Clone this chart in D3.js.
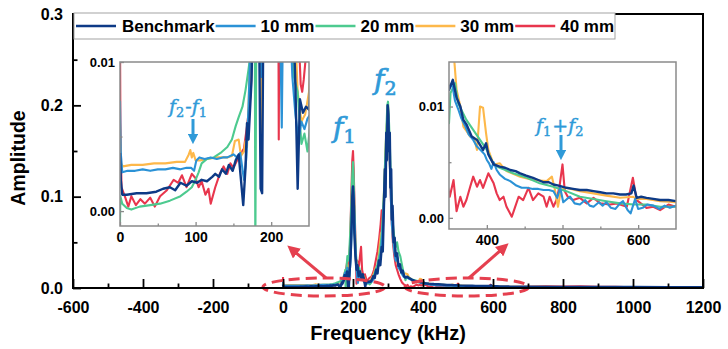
<!DOCTYPE html>
<html>
<head>
<meta charset="utf-8">
<script src="https://cdn.jsdelivr.net/npm/d3@7"></script>
<style>
body{margin:0;background:#fff;}
svg{display:block;font-family:"Liberation Sans",Arial,sans-serif;}
</style>
</head>
<body>
<script>
//series names and colours (legend order)
var seriesNames = ["Benchmark", "10 mm", "20 mm", "30 mm", "40 mm"];
var seriesColors = ["#0d3a86", "#2b92d6", "#4dca8f", "#fdb84a", "#e8364d"];

//spectra as [frequency kHz, amplitude]
var benchmark = [[0,.0039],[1,.0021],[3,.0011],[9,.0011],[22,.0012],[35,.0012],[48,.0013],[57,.0015],[66,.0016],[73,.0014],[80,.0019],[88,.0017],[95,.002],[102,.0019],[108,.0021],[115,.002],[122,.0023],[126,.0025],[131,.0023],[135,.0028],[140,.0025],[144,.0031],[149,.0027],[153,.0034],[157,.0038],[163,.0004],[166,.0029],[168,.0059],[170,.0048],[174,.0088],[176,.014],[180,.011],[183,.018],[186,.0015],[188,.0012],[190,.016],[193,.035],[196,.07],[198,.1],[200,.111],[202,.095],[204,.06],[207,.035],[210,.02],[213,.025],[216,.013],[220,.018],[224,.011],[228,.015],[232,.0085],[235,.0015],[238,.0075],[242,.0066],[246,.007],[250,.0068],[254,.009],[258,.013],[262,.011],[266,.02],[270,.016],[274,.03],[278,.025],[282,.045],[285,.04],[288,.085],[291,.13],[293,.1],[295,.17],[297,.14],[299,.2],[301,.19],[303,.15],[305,.17],[307,.11],[309,.13],[311,.075],[313,.09],[316,.05],[319,.055],[322,.035],[326,.038],[330,.024],[334,.026],[338,.017],[342,.019],[346,.013],[350,.0115],[355,.0124],[360,.0108],[365,.01],[369,.0088],[373,.0084],[380,.0073],[387,.007],[395,.0061],[399,.0067],[402,.0057],[409,.0048],[417,.0046],[424,.0045],[431,.0043],[438,.0042],[444,.004],[452,.0038],[461,.0036],[468,.0034],[475,.0032],[482,.0032],[488,.003],[495,.0029],[505,.0027],[514,.0026],[523,.0025],[532,.0025],[541,.0024],[550,.0023],[558,.0022],[567,.0022],[576,.0021],[584,.0021],[591,.0022],[594,.0029],[598,.0018],[604,.0019],[611,.0018],[620,.0017],[629,.0016],[640,.0016],[650,.0015],[700,.0014],[800,.0012],[900,.0011],[1000,.001],[1100,.0009],[1200,.0008]];

var mm10 = [[0,.0074],[1,.0039],[3,.0026],[10,.0027],[20,.0027],[30,.0028],[40,.0027],[50,.0028],[60,.0028],[70,.0029],[80,.0028],[88,.0029],[94,.0029],[98,.0027],[101,.0034],[105,.0036],[112,.0035],[120,.0036],[128,.0035],[136,.0036],[142,.0036],[146,.0037],[150,.0038],[155,.0036],[159,.0039],[164,.0021],[167,.0035],[170,.007],[173,.012],[177,.017],[180,.012],[184,.022],[187,.009],[190,.014],[193,.03],[196,.06],[199,.095],[201,.105],[203,.09],[206,.05],[209,.025],[212,.012],[214,.0056],[216,.015],[220,.011],[224,.014],[228,.009],[232,.0065],[236,.0048],[240,.006],[244,.0055],[248,.0062],[252,.0065],[256,.008],[260,.011],[265,.018],[270,.022],[275,.03],[280,.04],[284,.06],[288,.09],[292,.12],[295,.15],[298,.18],[300,.19],[302,.17],[305,.14],[308,.1],[311,.07],[314,.055],[318,.04],[322,.03],[326,.034],[330,.022],[335,.02],[340,.015],[345,.012],[350,.0115],[354,.0121],[358,.0105],[362,.0098],[366,.009],[371,.0083],[376,.0075],[382,.007],[387,.0064],[393,.006],[397,.0057],[400,.0052],[403,.0049],[406,.0044],[409,.005],[413,.0043],[417,.0039],[424,.0035],[431,.0033],[439,.0029],[446,.0027],[453,.0027],[461,.0026],[468,.0026],[475,.0025],[482,.0025],[488,.0024],[493,.0018],[497,.0027],[501,.0014],[506,.0017],[510,.0019],[516,.0013],[523,.0012],[530,.0016],[536,.0011],[541,.001],[548,.0014],[553,.0011],[558,.0014],[564,.0009],[570,.0008],[576,.0013],[580,.0015],[586,.0007],[590,.0004],[596,.0017],[600,.0008],[606,.0009],[612,.0012],[620,.0011],[628,.0008],[635,.0011],[642,.0009],[650,.0011],[700,.001],[800,.0009],[900,.0008],[1000,.0007],[1200,.0006]];

var mm20 = [[0,-.0008],[0.5,.001],[3,.0005],[9,.0002],[15,.0001],[26,.0003],[40,.0004],[53,.0005],[66,.0007],[80,.001],[88,.0013],[95,.0016],[100,.0021],[104,.0026],[108,.0032],[115,.0035],[124,.0036],[133,.0039],[142,.0043],[148,.0048],[153,.0057],[157,.0063],[162,.007],[166,.0081],[170,.0095],[175,.0115],[178,.02],[179,-.003],[181,.02],[184,.035],[188,.03],[192,.06],[195,.09],[198,.125],[200,.138],[202,.12],[205,.07],[208,.04],[211,.025],[214,.018],[218,.022],[222,.015],[226,.012],[230,.009],[235,.008],[240,.0045],[244,.0052],[248,.004],[252,.006],[256,.009],[260,.014],[265,.02],[270,.026],[275,.035],[280,.05],[284,.07],[288,.1],[292,.14],[295,.17],[298,.2],[300,.204],[302,.19],[305,.16],[308,.12],[311,.09],[314,.07],[318,.055],[322,.045],[326,.05],[330,.04],[335,.035],[340,.025],[346,.014],[350,.0085],[352,.0112],[358,.0121],[362,.0103],[373,.0088],[382,.0079],[391,.007],[400,.0061],[409,.0048],[417,.0045],[435,.004],[453,.0036],[470,.0031],[488,.0028],[505,.0024],[523,.0019],[541,.0017],[558,.0015],[576,.0013],[594,.0012],[611,.0012],[629,.001],[650,.001],[700,.0009],[800,.0008],[1000,.0007],[1200,.0006]];

var mm30 = [[0,.0059],[1,.0032],[4,.003],[15,.0031],[30,.0031],[45,.0032],[60,.0032],[75,.0033],[86,.0033],[91,.0038],[93,.0041],[95,.0036],[97,.0039],[100,.0034],[106,.0034],[115,.0035],[128,.0036],[142,.0036],[148,.0037],[152,.0047],[157,.0048],[160,.0037],[164,.004],[166,.0047],[168,.0043],[170,.007],[173,.012],[177,.018],[181,.014],[184,.025],[187,.0016],[189,.012],[192,.04],[195,.08],[198,.11],[200,.12],[202,.105],[205,.06],[208,.03],[211,.02],[215,.024],[219,.014],[223,.016],[227,.011],[231,.013],[235,.008],[240,.006],[245,.0065],[250,.008],[255,.012],[260,.016],[265,.022],[268,.018],[272,.03],[276,.045],[280,.06],[283,.05],[286,.08],[290,.12],[294,.16],[297,.18],[300,.19],[303,.17],[306,.13],[309,.1],[312,.07],[316,.05],[320,.04],[325,.03],[330,.025],[335,.02],[340,.016],[345,.015],[350,.016],[356,.015],[360,.0115],[365,.01],[369,.0082],[373,.0078],[378,.0073],[383,.0072],[387,.0061],[391,.01],[395,.0099],[399,.0076],[402,.0061],[409,.0048],[417,.0049],[426,.0042],[444,.0037],[461,.0034],[479,.0033],[486,.0037],[490,.0025],[494,.001],[498,.0025],[505,.0027],[523,.0024],[541,.0022],[558,.002],[576,.0018],[593,.0019],[598,.0017],[611,.0017],[629,.0015],[650,.0014],[700,.0013],[800,.0011],[1000,.0009],[1200,.0008]];

var mm40 = [[0,.012],[0.5,.0059],[2,.0016],[7,.0009],[11,.0003],[15,.001],[21,.0004],[27,.0008],[33,.0005],[40,.0009],[46,.0003],[53,.001],[62,.0014],[71,.0021],[77,.0019],[82,.0024],[88,.0016],[95,.0025],[100,.0022],[104,.0016],[108,.002],[113,.0011],[117,.0015],[120,.0005],[126,.0016],[132,.0025],[137,.003],[142,.0025],[146,.0032],[150,.0029],[155,.0034],[159,.0038],[164,.0042],[168,.0057],[173,.0079],[176,.013],[180,.02],[184,.03],[188,.025],[192,.05],[195,.1],[198,.14],[200,.15],[202,.13],[205,.08],[208,.04],[210,.0048],[212,.03],[216,.02],[220,.035],[223,.045],[226,.02],[230,.012],[234,.015],[237,.011],[239,.0085],[241,.008],[243,.0088],[247,.011],[252,.012],[256,.015],[260,.02],[265,.03],[270,.04],[275,.055],[279,.07],[282,.085],[285,.06],[288,.09],[292,.13],[295,.16],[298,.19],[300,.2],[302,.18],[305,.14],[308,.1],[311,.07],[314,.05],[318,.035],[322,.025],[326,.02],[330,.015],[335,.01],[340,.006],[345,.004],[351,.0019],[356,.0034],[360,.0006],[365,.0019],[369,.001],[373,.0016],[378,.0028],[382,.0037],[387,.0028],[391,.0034],[395,.0027],[402,.004],[409,.0031],[413,.0022],[417,.0016],[422,.0019],[426,.001],[433,.0001],[437,.0009],[442,.0019],[448,.0016],[455,.0027],[461,.0016],[468,.0022],[475,.0019],[479,.001],[483,.0019],[488,.001],[492,.0016],[496,.0028],[500,.0048],[503,.0024],[507,.0019],[514,.0016],[523,.0018],[532,.0013],[541,.0018],[550,.0013],[563,.0012],[572,.0013],[585,.001],[593,.0036],[598,.0016],[611,.0009],[620,.001],[629,.0007],[640,.0012],[650,.001],[700,.0012],[750,.0018],[800,.0015],[850,.0019],[900,.0014],[950,.0012],[1000,.0009],[1100,.0008],[1200,.0007]];

var allSeries = [benchmark, mm10, mm20, mm30, mm40];

//tick values and labels
var xTicks = [-600, -400, -200, 0, 200, 400, 600, 800, 1000, 1200];
var xTickLabels = ["-600", "-400", "-200", "0", "200", "400", "600", "800", "1000", "1200"];
var xMinor = [-500, -300, -100, 100, 300, 500, 700, 900, 1100];
var yTicks = [0, 0.1, 0.2, 0.3];
var yTickLabels = ["0.0", "0.1", "0.2", "0.3"];
var yMinor = [0.05, 0.15, 0.25];

var leftInsetXTicks = [0, 100, 200];
var leftInsetXMinor = [50, 150];
var rightInsetXTicks = [400, 500, 600];
var rightInsetXMinor = [450, 550];
var insetYTicks = [0, 0.01];
var insetYTickLabels = ["0.00", "0.01"];
var insetYMinor = [0.005];

//begin script when window loads
window.onload = drawChart();

function drawChart(){

    var width = 728,
        height = 349;

    //main plot frame
    var left = 73, right = 703, top = 14, bottom = 288;

    var svg = d3.select("body")
        .append("svg")
        .attr("width", width)
        .attr("height", height);

    var x = d3.scaleLinear().domain([-600, 1200]).range([left, right]);
    var y = d3.scaleLinear().domain([0, 0.3]).range([bottom, top]);

    svg.append("clipPath").attr("id", "clipMain")
        .append("rect")
        .attr("x", left).attr("y", top)
        .attr("width", right - left).attr("height", bottom - top);

    //main spectra, benchmark drawn last so it sits on top
    var mainLine = d3.line()
        .x(function(d){ return x(d[0]); })
        .y(function(d){ return y(d[1]); });

    var mainG = svg.append("g").attr("clip-path", "url(#clipMain)");
    for (var i = allSeries.length - 1; i >= 0; i--){
        mainG.append("path")
            .datum(allSeries[i])
            .attr("d", mainLine)
            .attr("fill", "none")
            .attr("stroke", seriesColors[i])
            .attr("stroke-width", i == 0 ? 2.5 : 2.1)
            .attr("stroke-linejoin", "round");
    }

    //main axes, ticks pointing inward
    svg.append("g")
        .attr("transform", "translate(0," + bottom + ")")
        .call(d3.axisBottom(x).tickValues(xTicks)
            .tickFormat(function(d, i){ return xTickLabels[i]; })
            .tickSize(-9).tickSizeOuter(0).tickPadding(14));
    svg.append("g")
        .attr("transform", "translate(0," + bottom + ")")
        .call(d3.axisBottom(x).tickValues(xMinor).tickFormat("").tickSize(-4.5).tickSizeOuter(0));

    svg.append("g")
        .attr("transform", "translate(" + left + ",0)")
        .call(d3.axisLeft(y).tickValues(yTicks)
            .tickFormat(function(d, i){ return yTickLabels[i]; })
            .tickSize(-8).tickSizeOuter(0).tickPadding(10));
    svg.append("g")
        .attr("transform", "translate(" + left + ",0)")
        .call(d3.axisLeft(y).tickValues(yMinor).tickFormat("").tickSize(-4.5).tickSizeOuter(0));

    svg.selectAll(".domain").remove();
    svg.selectAll(".tick line").attr("stroke", "#000").attr("stroke-width", 1.8);
    svg.selectAll(".tick text")
        .attr("fill", "#000")
        .style("font-size", "16px")
        .style("font-weight", "bold")
        .style("font-family", "'Liberation Sans', Arial, sans-serif");

    //axis titles
    svg.append("text")
        .attr("x", (left + right) / 2).attr("y", 340)
        .attr("text-anchor", "middle")
        .style("font-size", "20px").style("font-weight", "bold")
        .text("Frequency (kHz)");
    svg.append("text")
        .attr("transform", "translate(25,158) rotate(-90)")
        .attr("text-anchor", "middle")
        .style("font-size", "19.5px").style("font-weight", "bold")
        .text("Amplitude");

    //insets
    drawInset(svg, "insL", {x0: 120, x1: 309, y0: 62, y1: 226,
        xDomain: [0, 250], yDomain: [-0.001, 0.01],
        xTicks: leftInsetXTicks, xMinor: leftInsetXMinor});
    drawInset(svg, "insR", {x0: 449, x1: 676, y0: 62, y1: 229,
        xDomain: [350, 650], yDomain: [-0.001, 0.014],
        xTicks: rightInsetXTicks, xMinor: rightInsetXMinor});

    //red dashed ellipses and arrows
    var red = "#e5404f";
    var blue = "#2f9ad8";
    var defs = svg.append("defs");
    defs.append("marker")
        .attr("id", "arrowRed")
        .attr("viewBox", "0 0 10 10")
        .attr("refX", 2).attr("refY", 5)
        .attr("markerWidth", 4.2).attr("markerHeight", 4.2)
        .attr("orient", "auto")
        .append("path").attr("d", "M0,0 L10,5 L0,10 Z").attr("fill", red);
    defs.append("marker")
        .attr("id", "arrowBlue")
        .attr("viewBox", "0 0 10 10")
        .attr("refX", 2).attr("refY", 5)
        .attr("markerWidth", 3.4).attr("markerHeight", 3.4)
        .attr("orient", "auto")
        .append("path").attr("d", "M0,0 L10,5 L0,10 Z").attr("fill", blue);

    [[324, 287, 61], [467, 287, 62]].forEach(function(e){
        svg.append("ellipse")
            .attr("cx", e[0]).attr("cy", e[1]).attr("rx", e[2]).attr("ry", 9)
            .attr("fill", "none").attr("stroke", red)
            .attr("stroke-width", 3).attr("stroke-dasharray", "11,6");
    });
    [[326, 278, 295, 252], [469, 278, 501, 250]].forEach(function(a){
        svg.append("line")
            .attr("x1", a[0]).attr("y1", a[1]).attr("x2", a[2]).attr("y2", a[3])
            .attr("stroke", red).attr("stroke-width", 3)
            .attr("marker-end", "url(#arrowRed)");
    });

    //peak labels
    mathLabel(svg, 333, 137, 28, [["f", "1"]]);
    mathLabel(svg, 374, 89, 28, [["f", "2"]]);
    mathLabel(svg, 169, 113, 19, [["f", "2"], ["-"], ["f", "1"]]);
    mathLabel(svg, 536, 132, 19, [["f", "1"], ["+"], ["f", "2"]]);

    [[193, 119, 136], [561, 135, 152]].forEach(function(a){
        svg.append("line")
            .attr("x1", a[0]).attr("y1", a[1]).attr("x2", a[0]).attr("y2", a[2])
            .attr("stroke", blue).attr("stroke-width", 3)
            .attr("marker-end", "url(#arrowBlue)");
    });

    //main frame
    svg.append("rect")
        .attr("x", left).attr("y", top)
        .attr("width", right - left).attr("height", bottom - top)
        .attr("fill", "none").attr("stroke", "#000").attr("stroke-width", 2);

    //legend
    var legend = svg.append("g");
    legend.append("rect")
        .attr("x", 74).attr("y", 13).attr("width", 541).attr("height", 26)
        .attr("fill", "#fff").attr("stroke", "#a3a3a3").attr("stroke-width", 1);
    var cx = 76;
    seriesNames.forEach(function(name, i){
        legend.append("line")
            .attr("x1", cx).attr("x2", cx + 40).attr("y1", 26).attr("y2", 26)
            .attr("stroke", seriesColors[i]).attr("stroke-width", 2.5);
        var t = legend.append("text")
            .attr("x", cx + (i == 0 ? 46 : 45)).attr("y", 32)
            .style("font-size", "17px").style("font-weight", "bold")
            .text(name);
        cx = cx + (i == 0 ? 46 : 45) + t.node().getComputedTextLength() + 1;
    });

    //math style label: italic f with lowered upright subscripts
    function mathLabel(parent, lx, ly, size, parts){
        var t = parent.append("text")
            .attr("x", lx).attr("y", ly)
            .attr("fill", blue)
            .attr("stroke", blue)
            .attr("stroke-width", size > 20 ? 0.7 : 0.45)
            .style("font-family", "'DejaVu Serif', 'Liberation Serif', serif")
            .style("font-size", size + "px");
        var shift = size * 0.22;
        var lowered = false;
        parts.forEach(function(p){
            var back = lowered ? -shift : 0;
            if (p.length == 2){
                t.append("tspan").attr("dy", back).style("font-style", "italic").text(p[0]);
                t.append("tspan")
                    .attr("dy", shift)
                    .style("font-size", (size * 0.68) + "px")
                    .text(p[1]);
                lowered = true;
            } else {
                t.append("tspan").attr("dy", back).attr("dx", 1).text(p[0]);
                lowered = false;
            }
        });
    }

    //zoomed inset with its own scales, clipped to the inset box
    function drawInset(parent, id, o){
        var ix = d3.scaleLinear().domain(o.xDomain).range([o.x0, o.x1]);
        var iy = d3.scaleLinear().domain(o.yDomain).range([o.y1, o.y0]);
        var g = parent.append("g");

        g.append("rect")
            .attr("x", o.x0).attr("y", o.y0)
            .attr("width", o.x1 - o.x0).attr("height", o.y1 - o.y0)
            .attr("fill", "#fff");

        g.append("clipPath").attr("id", id)
            .append("rect")
            .attr("x", o.x0).attr("y", o.y0)
            .attr("width", o.x1 - o.x0).attr("height", o.y1 - o.y0);

        var insetLine = d3.line()
            .x(function(d){ return ix(d[0]); })
            .y(function(d){ return iy(d[1]); });

        var lines = g.append("g").attr("clip-path", "url(#" + id + ")");
        for (var i = allSeries.length - 1; i >= 0; i--){
            lines.append("path")
                .datum(allSeries[i].filter(function(d){
                    return d[0] >= o.xDomain[0] - 60 && d[0] <= o.xDomain[1] + 60;
                }))
                .attr("d", insetLine)
                .attr("fill", "none")
                .attr("stroke", seriesColors[i])
                .attr("stroke-width", i == 0 ? 2.4 : 2.1)
                .attr("stroke-linejoin", "round");
        }

        var ax = g.append("g")
            .attr("transform", "translate(0," + o.y1 + ")")
            .call(d3.axisBottom(ix).tickValues(o.xTicks).tickFormat(d3.format("d"))
                .tickSize(-4).tickSizeOuter(0).tickPadding(6));
        g.append("g")
            .attr("transform", "translate(0," + o.y1 + ")")
            .call(d3.axisBottom(ix).tickValues(o.xMinor).tickFormat("").tickSize(-2.5).tickSizeOuter(0));
        var ay = g.append("g")
            .attr("transform", "translate(" + o.x0 + ",0)")
            .call(d3.axisLeft(iy).tickValues(insetYTicks)
                .tickFormat(function(d, i){ return insetYTickLabels[i]; })
                .tickSize(-4).tickSizeOuter(0).tickPadding(5));
        g.append("g")
            .attr("transform", "translate(" + o.x0 + ",0)")
            .call(d3.axisLeft(iy).tickValues(insetYMinor).tickFormat("").tickSize(-2.5).tickSizeOuter(0));

        g.selectAll(".domain").remove();
        g.selectAll(".tick line").attr("stroke", "#8a8a8a").attr("stroke-width", 1.3);
        ax.selectAll(".tick text").attr("fill", "#000")
            .style("font-size", "14px").style("font-weight", "bold");
        ay.selectAll(".tick text").attr("fill", "#000")
            .style("font-size", "13px").style("font-weight", "bold");

        g.append("rect")
            .attr("x", o.x0).attr("y", o.y0)
            .attr("width", o.x1 - o.x0).attr("height", o.y1 - o.y0)
            .attr("fill", "none").attr("stroke", "#8a8a8a").attr("stroke-width", 1.5);
    }
}
</script>
</body>
</html>
